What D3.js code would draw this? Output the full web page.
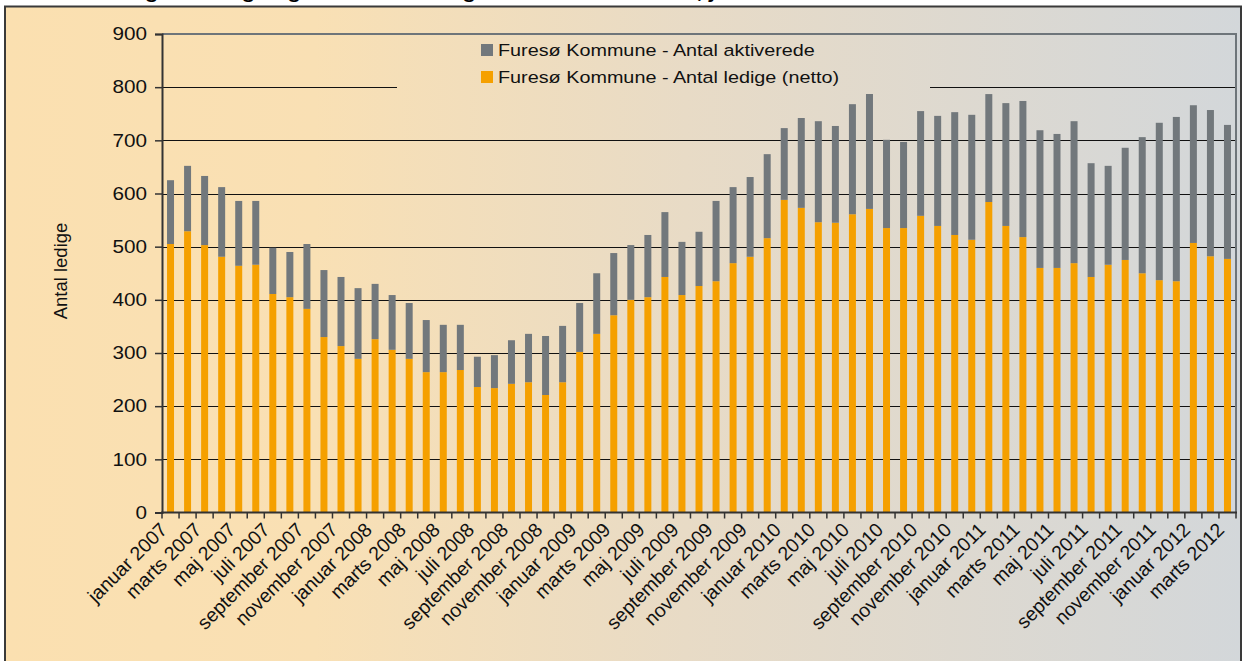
<!DOCTYPE html>
<html>
<head>
<meta charset="utf-8">
<script src="https://cdnjs.cloudflare.com/ajax/libs/d3/7.8.5/d3.min.js"></script>
<style>
    body { margin: 0; background: #fff; }
    svg { display: block; font-family: Arial, "Liberation Sans", sans-serif; }
</style>
</head>
<body>
<svg id="chart"></svg>
<script>
// months jan 2007 - marts 2012
var monthNames = ["januar", "februar", "marts", "april", "maj", "juni",
    "juli", "august", "september", "oktober", "november", "december"];
var years = [2007, 2008, 2009, 2010, 2011, 2012];

// Antal ledige (netto)
var ledige = [505, 529, 503, 481, 464, 466, 411, 405, 383, 330, 313, 289, 326, 306, 289, 264,
    264, 268, 236, 234, 242, 245, 221, 245, 302, 336, 371, 400, 405, 443, 409, 426,
    435, 469, 481, 516, 588, 573, 546, 545, 561, 571, 535, 535, 558, 539, 522, 513,
    584, 539, 518, 460, 460, 469, 443, 466, 475, 450, 437, 435, 507, 482, 477];

// Antal aktiverede
var aktiverede = [120, 123, 130, 131, 122, 120, 87, 85, 122, 126, 130, 133, 104, 103, 105, 98,
    89, 85, 57, 62, 82, 91, 111, 106, 92, 114, 117, 103, 117, 122, 100, 102,
    151, 143, 150, 158, 135, 169, 190, 182, 207, 218, 166, 162, 197, 207, 231, 235,
    203, 231, 256, 259, 252, 267, 214, 186, 211, 256, 296, 309, 259, 275, 252];

var yTicks = [0, 100, 200, 300, 400, 500, 600, 700, 800, 900];
var seriesNames = ["Furesø Kommune - Antal aktiverede", "Furesø Kommune - Antal ledige (netto)"];
var title = "Udviklingen i ledige og aktiverede ledige i Furesø Kommune, januar 2007 - marts 2012";

var months = [];
years.forEach(function (yr) {
    monthNames.forEach(function (m) { months.push(m + " " + yr); });
});
months = months.slice(0, ledige.length);

var table = months.map(function (m, i) {
    return { month: m, ledige: ledige[i], aktiverede: aktiverede[i] };
});

var width = 1244,
    height = 661;

var svg = d3.select('#chart')
    .attr('width', width)
    .attr('height', height);

// background gradient
var defs = svg.append('defs');
var grad = defs.append('linearGradient')
    .attr('id', 'bg')
    .attr('gradientUnits', 'userSpaceOnUse')
    .attr('x1', 5).attr('x2', 1241).attr('y1', 0).attr('y2', 0);
grad.append('stop').attr('offset', '0%').attr('stop-color', '#fbe0b0');
grad.append('stop').attr('offset', '25%').attr('stop-color', '#f9e0b4');
grad.append('stop').attr('offset', '55%').attr('stop-color', '#e8dbc6');
grad.append('stop').attr('offset', '100%').attr('stop-color', '#d3d7da');

svg.append('rect')
    .attr('x', 5).attr('y', 6.5)
    .attr('width', 1236).attr('height', 660)
    .attr('fill', 'url(#bg)')
    .attr('stroke', '#3a3a3a')
    .attr('stroke-width', 2);

// title, only its lower edge shows above the frame
svg.append('text')
    .attr('transform', 'translate(58,-2) scale(1.24,1)')
    .attr('font-size', 18)
    .attr('font-weight', 'bold')
    .text(title);

var x = d3.scaleBand()
    .domain(months)
    .range([162, 1236])
    .paddingInner(0.59)
    .paddingOuter(0.295);

var y = d3.scaleLinear()
    .domain([0, 900])
    .range([512.5, 34]);

// gridlines
svg.append('g')
    .selectAll('line')
    .data(yTicks.filter(function (d) { return d > 0 && d < 900; }))
    .enter().append('line')
    .attr('x1', 162).attr('x2', 1236)
    .attr('y1', function (d) { return Math.round(y(d)) + 0.5; })
    .attr('y2', function (d) { return Math.round(y(d)) + 0.5; })
    .attr('stroke', '#111')
    .attr('stroke-width', 1);

// plot border top + right
svg.append('path')
    .attr('d', 'M162,' + y(900) + 'H1236V' + y(0))
    .attr('fill', 'none')
    .attr('stroke', '#6e757a')
    .attr('stroke-width', 2);

// stacked bars
var stack = d3.stack().keys(['ledige', 'aktiverede']);
var colors = { ledige: '#f5a000', aktiverede: '#72787c' };

svg.append('g')
    .selectAll('g')
    .data(stack(table))
    .enter().append('g')
    .attr('fill', function (s) { return colors[s.key]; })
    .selectAll('rect')
    .data(function (s) { return s; })
    .enter().append('rect')
    .attr('x', function (d) { return x(d.data.month); })
    .attr('width', x.bandwidth())
    .attr('y', function (d) { return y(d[1]); })
    .attr('height', function (d) { return y(d[0]) - y(d[1]); });

// legend box covers the gridline
var legend = svg.append('g');
legend.append('rect')
    .attr('x', 397).attr('y', 37)
    .attr('width', 533).attr('height', 57)
    .attr('fill', 'url(#bg)');

var legendRows = [
    { name: seriesNames[0], color: colors.aktiverede },
    { name: seriesNames[1], color: colors.ledige }
];
var lg = legend.selectAll('g.item')
    .data(legendRows)
    .enter().append('g')
    .attr('class', 'item')
    .attr('transform', function (d, i) { return 'translate(481,' + (44 + i * 27) + ')'; });
lg.append('rect')
    .attr('width', 12).attr('height', 12)
    .attr('fill', function (d) { return d.color; });
lg.append('text')
    .attr('transform', 'translate(17,12) scale(1.2,1)')
    .attr('font-size', 16.5)
    .attr('fill', '#111')
    .text(function (d) { return d.name; });

// y axis
var yAxis = svg.append('g')
    .attr('transform', 'translate(162,0)')
    .call(d3.axisLeft(y).tickValues(yTicks).tickSize(7).tickPadding(7));
yAxis.select('.domain').attr('stroke', '#333').attr('stroke-width', 2);
yAxis.selectAll('.tick line').attr('stroke', '#333').attr('stroke-width', 1.5);
yAxis.selectAll('.tick text')
    .attr('x', null)
    .attr('transform', 'translate(-15,0) scale(1.15,1)')
    .attr('font-size', 18)
    .attr('font-family', 'Arial, "Liberation Sans", sans-serif')
    .attr('fill', '#111');

svg.append('text')
    .attr('transform', 'translate(67,271) rotate(-90)')
    .attr('text-anchor', 'middle')
    .attr('font-size', 18.5)
    .attr('fill', '#111')
    .text('Antal ledige');

// x axis
var step = x.step();
svg.append('line')
    .attr('x1', 161).attr('x2', 1237)
    .attr('y1', y(0)).attr('y2', y(0))
    .attr('stroke', '#333').attr('stroke-width', 2);

svg.append('g')
    .selectAll('line')
    .data(months.concat(['end']))
    .enter().append('line')
    .attr('x1', function (d, i) { return 162 + i * step; })
    .attr('x2', function (d, i) { return 162 + i * step; })
    .attr('y1', y(0)).attr('y2', y(0) + 6)
    .attr('stroke', '#333').attr('stroke-width', 1.5);

svg.append('g')
    .selectAll('text')
    .data(months.filter(function (d, i) { return i % 2 === 0; }))
    .enter().append('text')
    .attr('transform', function (d) {
        var cx = x(d) + x.bandwidth() / 2 - 2;
        return 'translate(' + cx + ',531) rotate(-45)';
    })
    .attr('text-anchor', 'end')
    .attr('font-size', 19.5)
    .attr('fill', '#111')
    .text(function (d) { return d; });
</script>
</body>
</html>
